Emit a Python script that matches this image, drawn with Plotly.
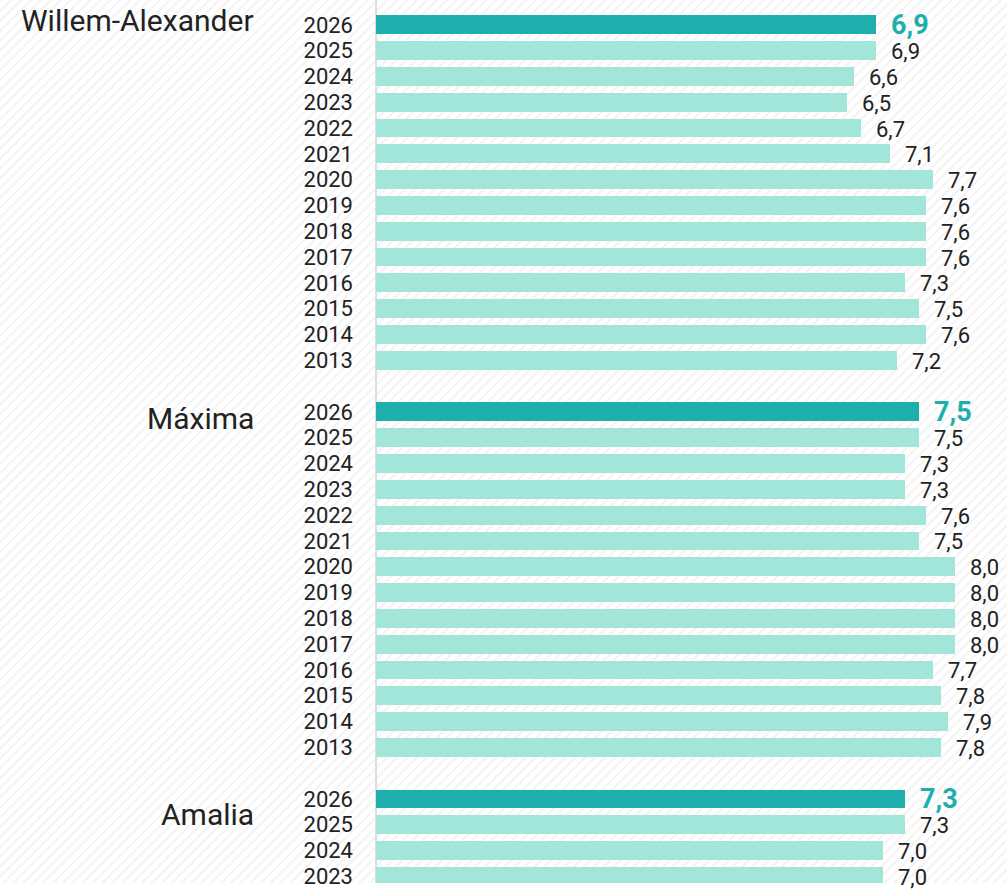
import base64
import plotly.graph_objects as go

# ---- data ----
groups = ["Willem-Alexander", "Máxima", "Amalia"]
wa_years = [2026, 2025, 2024, 2023, 2022, 2021, 2020, 2019, 2018, 2017, 2016, 2015, 2014, 2013]
wa_vals = [6.9, 6.9, 6.6, 6.5, 6.7, 7.1, 7.7, 7.6, 7.6, 7.6, 7.3, 7.5, 7.6, 7.2]
max_years = [2026, 2025, 2024, 2023, 2022, 2021, 2020, 2019, 2018, 2017, 2016, 2015, 2014, 2013]
max_vals = [7.5, 7.5, 7.3, 7.3, 7.6, 7.5, 8.0, 8.0, 8.0, 8.0, 7.7, 7.8, 7.9, 7.8]
am_years = [2026, 2025, 2024, 2023]
am_vals = [7.3, 7.3, 7.0, 7.0]

DARK = "#1EAFAD"
LIGHT = "#A1E6D8"
TXT = "#222222"
FONT = "Roboto"

series = [(wa_years, wa_vals), (max_years, max_vals), (am_years, am_vals)]

rows, vals, years, colors, group_start = [], [], [], [], []
r = 0
for yrs, vs in series:
    group_start.append(r)
    for yy, v in zip(yrs, vs):
        rows.append(r)
        vals.append(v)
        years.append(str(yy))
        colors.append(DARK if yy == 2026 else LIGHT)
        r += 1
    r += 1  # blank row between groups

fig = go.Figure()
fig.add_trace(go.Bar(
    x=vals, y=rows, orientation="h", width=0.73,
    marker=dict(color=colors, line=dict(width=0)),
    hoverinfo="skip", showlegend=False,
))

annotations = []
for row, v, yy in zip(rows, vals, years):
    txt = f"{v:.1f}".replace(".", ",")
    if yy == "2026":
        font = dict(family=FONT, size=27, color=DARK, weight="bold")
    else:
        font = dict(family=FONT, size=22, color=TXT)
    annotations.append(dict(
        x=v, y=row, xref="x", yref="y", text=txt, showarrow=False,
        xanchor="left", yanchor="middle", xshift=13, yshift=-1 if yy != "2026" else 0,
        font=font,
    ))

W, H = 1007, 889
L = 376
pw = W - L
label_x = (256 - L) / pw
yshifts = [4, -6.5, -16]
for g, start, ys in zip(groups, group_start, yshifts):
    annotations.append(dict(
        x=label_x, y=start, xref="paper", yref="y", text=g, showarrow=False,
        xanchor="right", yanchor="middle", yshift=ys,
        font=dict(family=FONT, size=30, color=TXT),
    ))

# hatched background
svg = (
    f"<svg xmlns='http://www.w3.org/2000/svg' width='{W}' height='{H}'>"
    "<defs><pattern id='p' width='7' height='7' patternUnits='userSpaceOnUse' "
    "patternTransform='rotate(45)'><rect width='2' height='7' fill='#f3f3f3'/></pattern></defs>"
    "<rect width='100%' height='100%' fill='url(#p)'/></svg>"
)
src = "data:image/svg+xml;base64," + base64.b64encode(svg.encode()).decode()

pitch = 25.98
y0_px = 25.0
ytop = -y0_px / pitch
ybot = (H - y0_px) / pitch

fig.update_layout(
    width=W, height=H,
    margin=dict(l=L, r=0, t=0, b=0),
    paper_bgcolor="white", plot_bgcolor="rgba(0,0,0,0)",
    annotations=annotations,
    images=[dict(source=src, xref="paper", yref="paper", x=-L / pw, y=1,
                 sizex=W / pw, sizey=1, xanchor="left", yanchor="top",
                 sizing="stretch", layer="below")],
    xaxis=dict(range=[0, pw / 72.4], showgrid=False, showticklabels=False,
               zeroline=True, zerolinecolor="#dddddd", zerolinewidth=1.5, fixedrange=True),
    yaxis=dict(range=[ybot, ytop], tickvals=rows, ticktext=years, showgrid=False,
               zeroline=False, ticks="", ticklabelstandoff=22,
               ticklabeloverflow="allow",
               tickfont=dict(family=FONT, size=22, color=TXT), fixedrange=True),
    bargap=0,
)

fig.write_html("out.html", post_script="document.body.style.margin='0';",
               config={"displayModeBar": False})
